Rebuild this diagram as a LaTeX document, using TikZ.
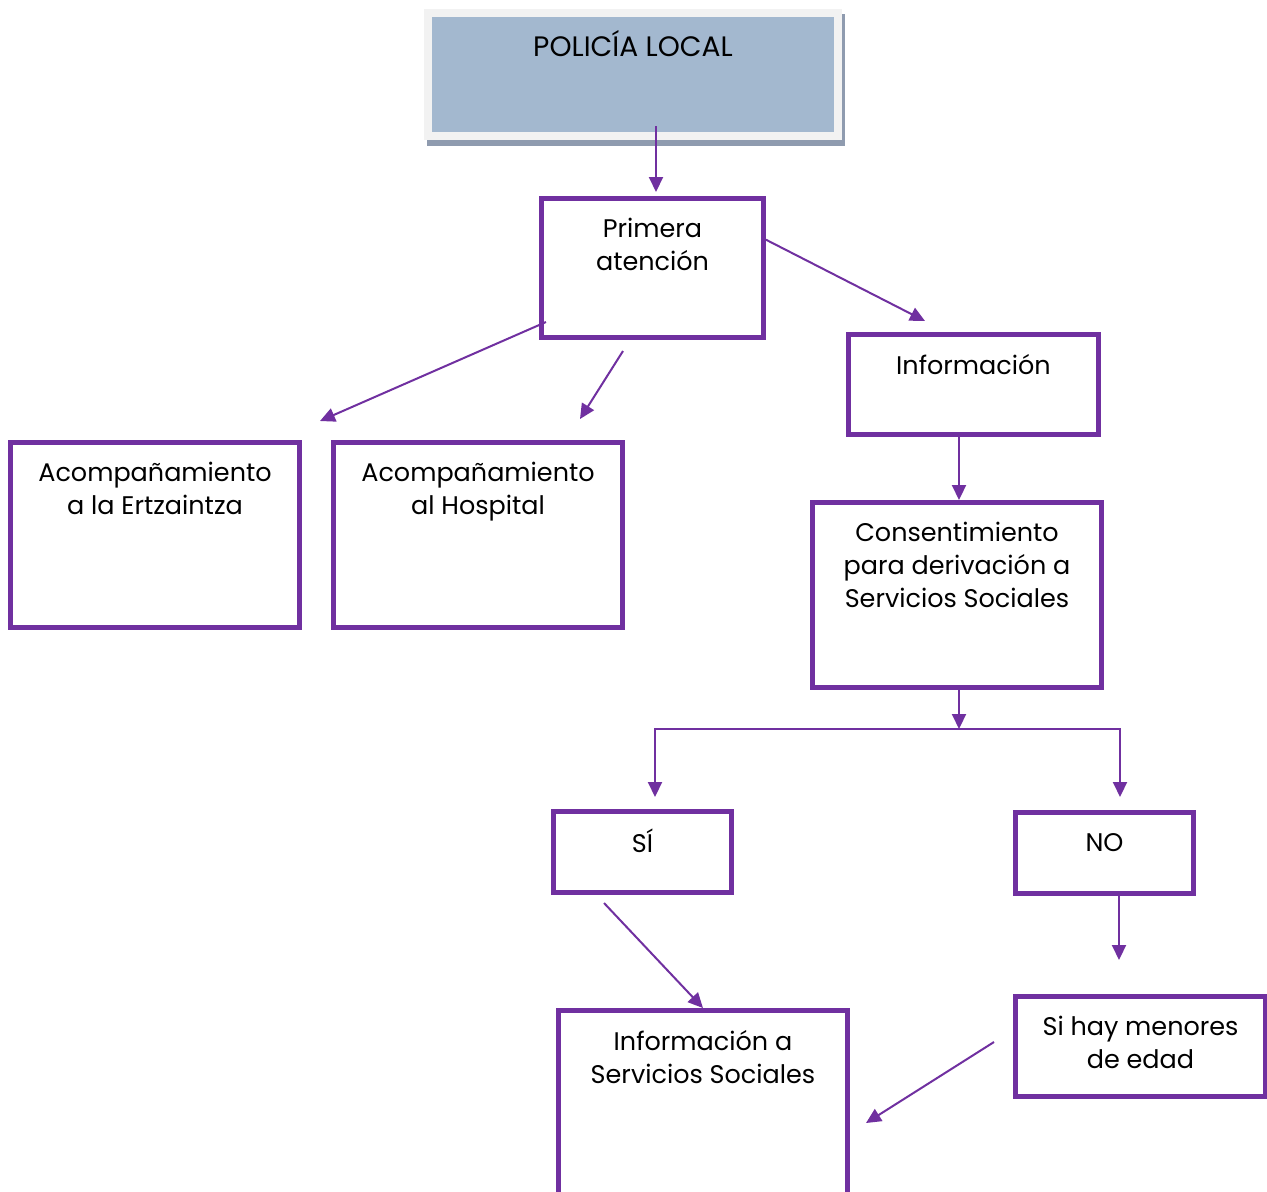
\documentclass[tikz,border=0pt]{standalone}
\usepackage{fontspec}
\setmainfont{Poppins}
\usetikzlibrary{arrows.meta,backgrounds}
\definecolor{morado}{HTML}{7030A0}
\definecolor{azul}{HTML}{A3B8CF}
\definecolor{marco}{HTML}{F2F2F2}
\definecolor{sombra}{HTML}{8F9BAF}

\begin{document}
\begin{tikzpicture}[x=0.02cm, y=-0.02cm,
    caja/.style={draw=morado, line width=0.1cm, inner sep=0pt},
    texto/.style={anchor=north, align=center, inner sep=0pt, yshift=-0.44cm,
      font=\fontsize{14.5}{18.8}\selectfont},
    flecha/.style={draw=morado, line width=0.04cm, -{Triangle[length=0.3cm,width=0.28cm]}}]
  \clip (0,0) rectangle (1267,1191);

  \node [fill=azul, draw=marco, line width=0.16cm, minimum width=8.2cm, minimum height=2.46cm,
    label={[texto,yshift=0.02cm,font=\fontsize{16}{19}\selectfont]north:POLICÍA LOCAL}] (policia) at (633,74.5) {};
  \begin{scope}[on background layer]
    \fill [sombra] ([shift={(3,5)}]policia.north west) rectangle ([shift={(3,6)}]policia.south east);
  \end{scope}

  \node [caja, minimum width=4.44cm, minimum height=2.78cm,
    label={[texto]north:Primera\\atención}] (primera) at (652.5,268) {};
  \node [caja, minimum width=5cm, minimum height=2cm,
    label={[texto]north:Información}] (info) at (973.5,384.5) {};
  \node [caja, minimum width=5.78cm, minimum height=3.7cm,
    label={[texto]north:Acompañamiento\\a la Ertzaintza}] (ertzaintza) at (155,535) {};
  \node [caja, minimum width=5.78cm, minimum height=3.7cm,
    label={[texto]north:Acompañamiento\\al Hospital}] (hospital) at (478,535) {};
  \node [caja, minimum width=5.78cm, minimum height=3.7cm,
    label={[texto]north:Consentimiento\\para derivación a\\Servicios Sociales}] (consentimiento) at (957,595) {};
  \node [caja, minimum width=3.56cm, minimum height=1.62cm,
    label={[texto,yshift=0.04cm]north:SÍ}] (si) at (642.5,852) {};
  \node [caja, minimum width=3.56cm, minimum height=1.62cm,
    label={[texto,yshift=-0.04cm]north:NO}] (no) at (1104.5,852.5) {};
  \node [caja, minimum width=5cm, minimum height=2cm,
    label={[texto]north:Si hay menores\\de edad}] (menores) at (1140.5,1046.5) {};
  \node [caja, minimum width=5.78cm, minimum height=3.8cm,
    label={[texto]north:Información a\\Servicios Sociales}] (infoss) at (703,1105.5) {};

  % extremos libres de las flechas
  \coordinate (pol1) at (656,126);
  \coordinate (pol2) at (656,192);
  \coordinate (inf) at (925,321);
  \coordinate (ertz0) at (546,322);
  \coordinate (ertz1) at (320,421);
  \coordinate (hosp0) at (623,351);
  \coordinate (hosp1) at (580,419);
  \coordinate (ramal) at (959,729);
  \coordinate (izq) at (655,797);
  \coordinate (der) at (1120,797);
  \coordinate (men) at (1119,960);
  \coordinate (si0) at (604,903);
  \coordinate (men0) at (994,1042);
  \coordinate (men1) at (866,1123);

  \draw [flecha] (pol1) -- (pol2);
  \draw [flecha] (primera.14) -- (inf);
  \draw [flecha] (ertz0) -- (ertz1);
  \draw [flecha] (hosp0) -- (hosp1);
  \draw [flecha] (ramal |- info.south) -- (ramal |- consentimiento.north);
  \draw [flecha] (ramal |- consentimiento.south) -- (ramal);
  \draw [flecha] (ramal) -| (izq);
  \draw [flecha] (ramal) -| (der);
  \draw [flecha] (men |- no.south) -- (men);
  \draw [flecha] (si0) -- (infoss.north);
  \draw [flecha] (men0) -- (men1);
\end{tikzpicture}
\end{document}
